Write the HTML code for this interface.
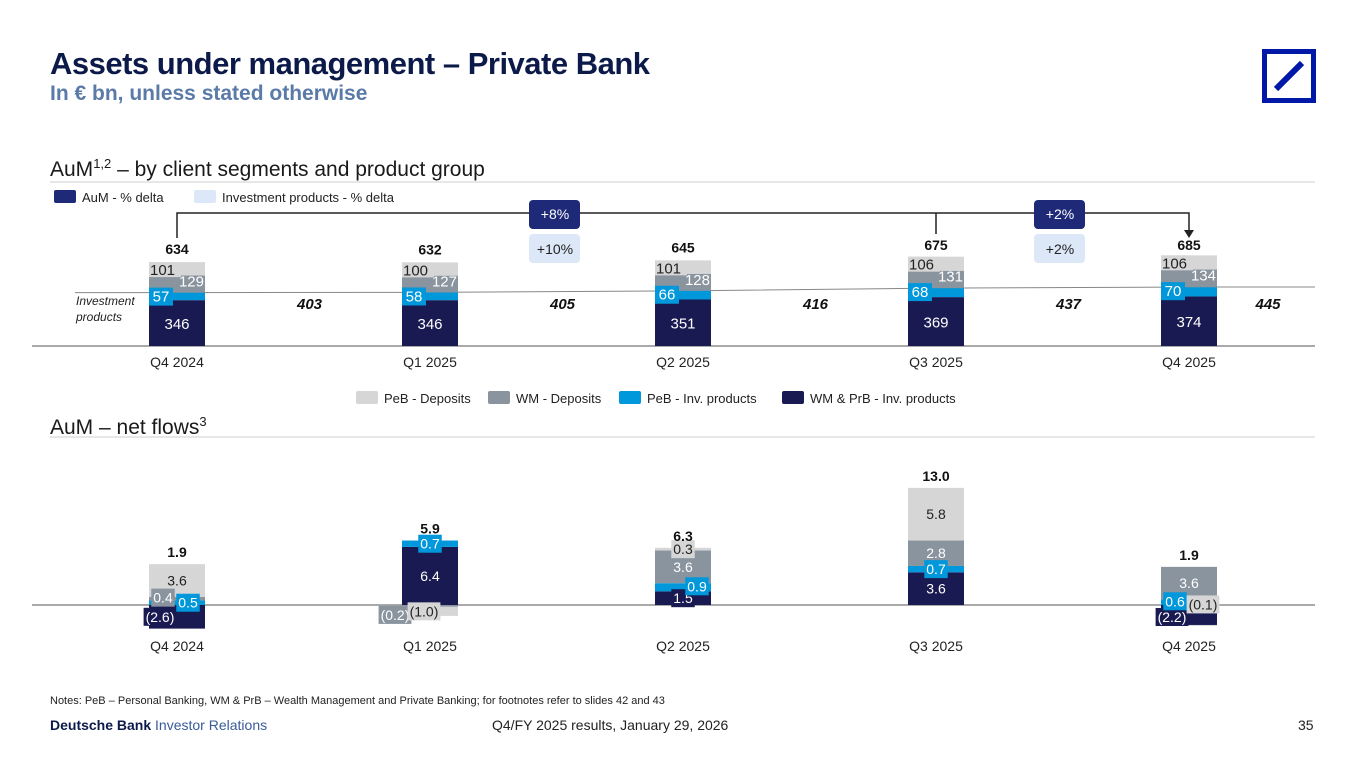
<!DOCTYPE html>
<html><head><meta charset="utf-8"><style>
body{margin:0;width:1365px;height:768px;background:#fff;font-family:"Liberation Sans",sans-serif;overflow:hidden;position:relative}
.t{position:absolute;white-space:nowrap}
</style></head><body>
<div class="t" style="left:50px;top:46px;font-size:31px;font-weight:bold;color:#0c1a4a;letter-spacing:-0.5px">Assets under management – Private Bank</div>
<div class="t" style="left:50px;top:82px;font-size:21px;font-weight:bold;color:#5a7aa8">In € bn, unless stated otherwise</div>
<svg style="position:absolute;left:1262px;top:49px" width="54" height="54"><rect x="2.5" y="2.5" width="49" height="49" fill="none" stroke="#0018a8" stroke-width="5"/><line x1="14" y1="40" x2="40" y2="14" stroke="#0018a8" stroke-width="6"/></svg>
<div class="t" style="left:50px;top:156px;font-size:21px;color:#1a1a1a">AuM<sup style="font-size:13px">1,2</sup> – by client segments and product group</div>
<div class="t" style="left:50px;top:414px;font-size:21px;color:#1a1a1a">AuM – net flows<sup style="font-size:13px">3</sup></div>
<svg id="c" width="1365" height="768" style="position:absolute;left:0;top:0" font-family="Liberation Sans, sans-serif"></svg>
<div class="t" style="left:50px;top:695px;font-size:11px;color:#222">Notes: PeB – Personal Banking, WM &amp; PrB – Wealth Management and Private Banking; for footnotes refer to slides 42 and 43</div>
<div class="t" style="left:50px;top:717px;font-size:14px;color:#0c1a4a"><b>Deutsche Bank</b> <span style="color:#3a5a9a">Investor Relations</span></div>
<div class="t" style="left:492px;top:717px;font-size:14px;color:#222">Q4/FY 2025 results, January 29, 2026</div>
<div class="t" style="left:1298px;top:717px;font-size:14px;color:#222">35</div>
<script>
const categories=["Q4 2024","Q1 2025","Q2 2025","Q3 2025","Q4 2025"];
const aumDark=[346,346,351,369,374];
const aumCyan=[57,58,66,68,70];
const aumWM=[129,127,128,131,134];
const aumPeB=[101,100,101,106,106];
const aumTotal=[634,632,645,675,685];
const invTotal=[403,405,416,437,445];
const flowDark=[-2.6,6.4,1.5,3.6,-2.2];
const flowCyan=[0.5,0.7,0.9,0.7,0.6];
const flowWM=[0.4,-0.2,3.6,2.8,3.6];
const flowPeB=[3.6,-1.0,0.3,5.8,-0.1];
const flowTotal=[1.9,5.9,6.3,13.0,1.9];
const aumDelta=["+8%","+2%"];
const invDelta=["+10%","+2%"];

// label nudges (layout only): [category][segment] = [dx, dy]
const labelNudge=[
 [[-17,0],[11,0],[-14,-1],[0,0]],
 [[0,0],[0,0],[-35,9],[-6,0]],
 [[0,0],[14,-1],[0,0],[0,0]],
 [[0,0],[0,0],[0,0],[0,0]],
 [[-17,2],[-14,-1],[0,0],[14,-21]]
];

const svg=document.getElementById('c');
const NS="http://www.w3.org/2000/svg";
function mk(tag,a,parent){const e=document.createElementNS(NS,tag);for(const k in a)e.setAttribute(k,a[k]);(parent||svg).appendChild(e);return e;}
function txt(x,y,s,a){const e=mk('text',Object.assign({x:x,y:y,'font-size':14},a));e.textContent=s;return e;}
const C={dark:"#1a1a52",cyan:"#0098db",wm:"#8a949e",peb:"#d6d6d6"};
const xC=i=>177+i*253;
const BW=56;
let l=mk('line',{x1:50,y1:182,x2:1315,y2:182,stroke:"#cfcfcf"});

l=mk('line',{x1:50,y1:437,x2:1315,y2:437,stroke:"#cfcfcf"});

function leg(x,y,col,label,name){const g=mk('g',{});
mk('rect',{x:x,y:y,width:22,height:13,fill:col,rx:2},g);const t=mk('text',{x:x+28,y:y+12,'font-size':13,fill:"#222"},g);t.textContent=label;}
leg(54,190,"#1e2a78","AuM - % delta","legend-aum-delta");
leg(194,190,"#dce8f7","Investment products - % delta","legend-inv-delta");
// top chart
const yT=v=>346-v*0.1325;
const ax=mk('line',{x1:32,y1:346,x2:1315,y2:346,stroke:"#555"});
let pts=[[75,yT(invTotal[0])]];categories.forEach((c,i)=>pts.push([xC(i),yT(invTotal[i])]));pts.push([1315,yT(invTotal[4])]);
const pl=mk('polyline',{points:pts.map(p=>p.join(',')).join(' '),fill:"none",stroke:"#888","stroke-width":1});

const ip=txt(76,305,"Investment",{'font-size':12,'font-style':'italic',fill:"#222"});
txt(76,321,"products",{'font-size':12,'font-style':'italic',fill:"#222"});
categories.forEach((c,i)=>{
 const x=xC(i)-BW/2;let base=0;
 const segs=[[aumDark[i],C.dark,'wm-prb-inv'],[aumCyan[i],C.cyan,'peb-inv'],[aumWM[i],C.wm,'wm-deposits'],[aumPeB[i],C.peb,'peb-deposits']];
 const tops=[];
 segs.forEach(s=>{const y1=yT(base+s[0]),y0=yT(base);const r=mk('rect',{x:x,y:y1,width:BW,height:y0-y1,fill:s[1]});
 tops.push([y1,y0]);base+=s[0];});
 txt(xC(i),(tops[0][0]+tops[0][1])/2+6,aumDark[i],{'text-anchor':'middle',fill:"#fff",'font-size':15});
 mk('rect',{x:x,y:tops[1][0]-5,width:24,height:18,fill:C.cyan});
 txt(x+12,tops[1][0]+9,aumCyan[i],{'text-anchor':'middle',fill:"#fff",'font-size':15});
 txt(x+BW-1,tops[2][0]+11,aumWM[i],{'text-anchor':'end',fill:"#fff",'font-size':15});
 mk('rect',{x:x,y:tops[3][0],width:32,height:15,fill:C.peb});
 txt(x+1,tops[3][0]+13,aumPeB[i],{fill:"#222",'font-size':15});
 const tt=txt(xC(i),Math.max(tops[3][0]-8,250),aumTotal[i],{'text-anchor':'middle','font-weight':'bold','font-size':14,fill:"#111"});
 
 const xl=txt(xC(i),367,c,{'text-anchor':'middle','font-size':14,fill:"#222"});
 if(i<4){const it=txt((xC(i)+xC(i+1))/2+6,309,invTotal[i],{'text-anchor':'middle','font-weight':'bold','font-style':'italic','font-size':15,fill:"#111"});
 }
});
const it4=txt(1268,309,invTotal[4],{'text-anchor':'middle','font-weight':'bold','font-style':'italic','font-size':15,fill:"#111"});

const br=mk('path',{d:`M${xC(0)},238 V213 H${xC(4)} V233 M${xC(3)},213 V234`,fill:"none",stroke:"#222","stroke-width":1.5});

mk('path',{d:`M${xC(4)-5},230 L${xC(4)+5},230 L${xC(4)},238 Z`,fill:"#222"});
[[561,0],[1066,1]].forEach(([cx,k])=>{
 const b=mk('rect',{x:cx-32,y:200,width:51,height:29,rx:4,fill:"#1e2a78"});
 txt(cx-6,219,aumDelta[k],{'text-anchor':'middle',fill:"#fff",'font-size':14});
 const b2=mk('rect',{x:cx-32,y:234,width:51,height:29,rx:4,fill:"#dce8f7"});
 txt(cx-6,254,invDelta[k],{'text-anchor':'middle',fill:"#222",'font-size':14});
});
[[356,C.peb,"PeB - Deposits"],[488,C.wm,"WM - Deposits"],[619,C.cyan,"PeB - Inv. products"],[782,C.dark,"WM & PrB - Inv. products"]].forEach((d,k)=>leg(d[0],391,d[1],d[2],'legend-bottom-'+k));
// bottom chart
const yB=v=>605-v*9.08;
const ax2=mk('line',{x1:32,y1:605,x2:1315,y2:605,stroke:"#555"});
categories.forEach((c,i)=>{
 const x=xC(i)-BW/2;let pos=0,neg=0;
 const segs=[[flowDark[i],C.dark,"#fff",'wm-prb-inv'],[flowCyan[i],C.cyan,"#fff",'peb-inv'],[flowWM[i],C.wm,"#fff",'wm-deposits'],[flowPeB[i],C.peb,"#222",'peb-deposits']];
 const geo=[];
 segs.forEach((s,k)=>{let a,b;const v=s[0];
  if(v>=0){a=pos;b=pos+v;pos=b;}else{a=neg;b=neg+v;neg=b;}
  const y1=Math.min(yB(a),yB(b)),h=Math.abs(yB(a)-yB(b));
  const r=mk('rect',{x:x,y:y1,width:BW,height:h,fill:s[1]});
  geo.push([y1,h]);
 });
 segs.forEach((s,k)=>{const v=s[0];const [y1,h]=geo[k];
  const lab=v<0?"("+Math.abs(v).toFixed(1)+")":v.toFixed(1);
  const n=labelNudge[i]?labelNudge[i][k]:[0,0];
  const lx=xC(i)+n[0],cy=y1+h/2+n[1];
  const t=txt(lx,cy+5,lab,{'text-anchor':'middle',fill:s[2],'font-size':14});
  if(h<16||n[0]!==0||n[1]!==0){let w=36;try{w=t.getComputedTextLength()+4;}catch(e){}
   const r=document.createElementNS(NS,'rect');r.setAttribute('x',lx-w/2);r.setAttribute('y',cy-9);r.setAttribute('width',w);r.setAttribute('height',18);r.setAttribute('fill',s[1]);
   svg.insertBefore(r,t);}
 });
 const tt=txt(xC(i),yB(pos)-7,flowTotal[i].toFixed(1),{'text-anchor':'middle','font-weight':'bold','font-size':14,fill:"#111"});
 
 const xl=txt(xC(i),651,c,{'text-anchor':'middle','font-size':14,fill:"#222"});
});
</script>
</body></html>
